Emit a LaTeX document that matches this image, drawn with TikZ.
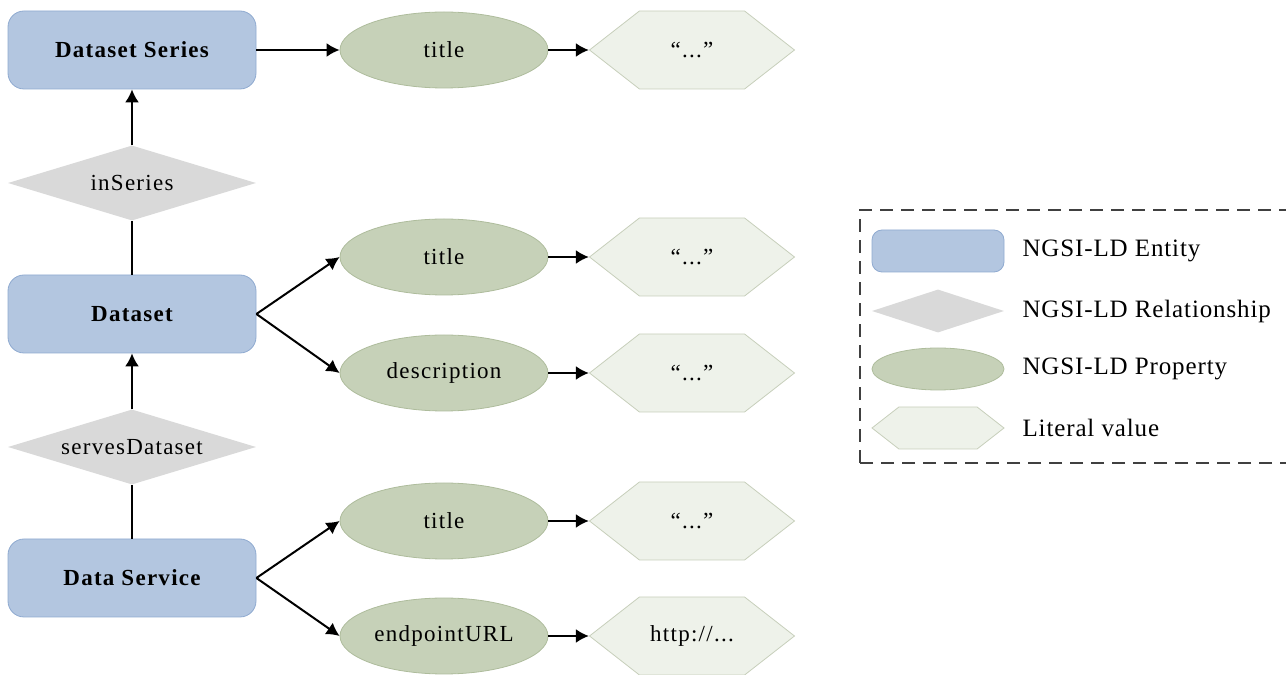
\documentclass[tikz,border=0pt]{standalone}
\usepackage{fontspec}
\setmainfont{Liberation Serif}
\usetikzlibrary{arrows.meta,shapes.geometric,shapes.symbols}
\definecolor{entfill}{HTML}{B3C6E0}
\definecolor{entdraw}{HTML}{8FAAD0}
\definecolor{relfill}{HTML}{D9D9D9}
\definecolor{propfill}{HTML}{C6D1B8}
\definecolor{propdraw}{HTML}{AEBC9C}
\definecolor{litfill}{HTML}{EEF2EA}
\definecolor{litdraw}{HTML}{C7CFBB}
\newfontfamily\nodefont[LetterSpace=5.5]{Liberation Serif}
\newfontfamily\legfont[LetterSpace=3.5]{Liberation Serif}
\tikzset{
  entity/.style={rectangle, rounded corners=16pt, fill=entfill, draw=entdraw, line width=0.8pt,
     minimum width=248pt, minimum height=78pt, font=\nodefont\fontsize{23}{26}\selectfont\bfseries},
  relation/.style={diamond, fill=relfill, draw=none, aspect=3.3, inner sep=0pt,
     minimum width=248pt, minimum height=75pt, font=\nodefont\fontsize{23}{26}\selectfont},
  property/.style={ellipse, fill=propfill, draw=propdraw, line width=0.8pt, inner sep=0pt,
     minimum width=208pt, minimum height=76pt, font=\nodefont\fontsize{23}{26}\selectfont},
  literal/.style={signal, signal to=west and east, signal pointer angle=76, fill=litfill, draw=litdraw,
     line width=0.8pt, inner sep=0pt, minimum width=205pt, minimum height=78pt, font=\nodefont\fontsize{23}{26}\selectfont},
  conn/.style={line width=2pt, black},
  arr/.style={conn, -{Latex[length=13pt,width=14pt]}},
  legtext/.style={anchor=west, font=\legfont\fontsize{25}{28}\selectfont}
}
\begin{document}
\begin{tikzpicture}[x=1pt,y=1pt]
\useasboundingbox (0,0) rectangle (1286,675);
% entities
\node[entity] (ds) at (132,625) {Dataset Series};
\node[relation] (inseries) at (132,492) {inSeries};
\node[entity] (dataset) at (132,361) {Dataset};
\node[relation] (serves) at (132,228) {servesDataset};
\node[entity] (service) at (132,97) {Data Service};
% properties
\node[property] (p1) at (444,625) {title};
\node[property] (p2) at (444,418) {title};
\node[property] (p3) at (444,302) {description};
\node[property] (p4) at (444,154) {title};
\node[property] (p5) at (444,39) {endpointURL};
% literals
\node[literal] (l1) at (692,625) {“...”};
\node[literal] (l2) at (692,418) {“...”};
\node[literal] (l3) at (692,302) {“...”};
\node[literal] (l4) at (692,154) {“...”};
\node[literal] (l5) at (692,39) {http://...};
% connectors
\draw[arr] (ds.east) -- (p1.west);
\draw[arr] (inseries.north) -- (ds.south);
\draw[conn] (dataset.north) -- (inseries.south);
\draw[arr] (serves.north) -- (dataset.south);
\draw[conn] (service.north) -- (serves.south);
\draw[arr] (dataset.east) -- (p2.west);
\draw[arr] (dataset.east) -- (p3.west);
\draw[arr] (service.east) -- (p4.west);
\draw[arr] (service.east) -- (p5.west);
\draw[arr] (p1.east) -- (l1.west);
\draw[arr] (p2.east) -- (l2.west);
\draw[arr] (p3.east) -- (l3.west);
\draw[arr] (p4.east) -- (l4.west);
\draw[arr] (p5.east) -- (l5.west);
% legend
\draw[line width=1.2pt, black!75, dash pattern=on 13pt off 8pt] (860,212) rectangle (1296,465);
\node[entity, minimum width=132pt, minimum height=42pt, rounded corners=10pt] (le) at (938,424) {};
\node[relation, minimum width=132pt, minimum height=43pt, aspect=3.1] (lr) at (938,364) {};
\node[property, minimum width=132pt, minimum height=42pt] (lp) at (938,306) {};
\node[literal, minimum width=132pt, minimum height=42pt] (ll) at (938,247) {};
\node[legtext] (te) at (1019,424) {NGSI-LD Entity};
\node[legtext] (tr) at (1019,364) {NGSI-LD Relationship};
\node[legtext] (tp) at (1019,306) {NGSI-LD Property};
\node[legtext] (tl) at (1019,247) {Literal value};
\end{tikzpicture}
\end{document}
